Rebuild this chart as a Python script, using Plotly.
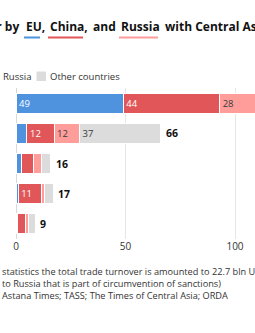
import plotly.graph_objects as go

# ---- data ----
countries = ["Kazakhstan", "Uzbekistan", "Kyrgyzstan", "Turkmenistan", "Tajikistan"]
eu = [49, 5, 2.7, 1.0, 0.5]
china = [44, 12.4, 5.2, 10.6, 3.8]
russia = [28, 11.6, 3.8, 1.4, 1.6]
others = [19, 37, 4.1, 4.1, 3.0]
series_names = ["EU", "China", "Russia", "Other countries"]
tick_vals = [0, 50, 100]

# ---- style ----
W, H = 255, 333
L, R, T, B = 16, 0, 88, 94
PX_PER_UNIT = 2.19
colors = ["#4f93df", "#e15759", "#ff9d9a", "#dcdcdc"]
label_colors = ["#ffffff", "#ffffff", "#3a3a3a", "#3a3a3a"]
FONT = "Open Sans"
plot_w = W - L - R
plot_h = H - T - B


def px(x):
    return (x - L) / plot_w


def py(y):
    return (H - B - y) / plot_h


fig = go.Figure()
for name, vals, col, lcol in zip(series_names, [eu, china, russia, others], colors, label_colors):
    fig.add_trace(go.Bar(
        y=countries, x=vals, name=name, orientation="h",
        marker=dict(color=col, line=dict(color="white", width=1)),
        text=[f"{v:.0f}" if v >= 8 else "" for v in vals],
        textposition="inside", insidetextanchor="start",
        insidetextfont=dict(family=FONT, size=9.5, color=lcol),
        textangle=0, constraintext="none",
        hoverinfo="skip",
    ))

totals = [a + b + c + d for a, b, c, d in zip(eu, china, russia, others)]
annotations = []
for cty, tot in zip(countries, totals):
    annotations.append(dict(
        x=tot, y=cty, xref="x", yref="y", text=f"<b>{tot:.0f}</b>",
        showarrow=False, xanchor="left", xshift=3,
        font=dict(family=FONT, size=10.5, color="#111111"),
    ))

# title pieces
title_pieces = [
    ("Trade turnover by", 20.5, "right"),
    ("EU,", 24, "left"),
    ("China,", 48, "left"),
    ("and", 90.5, "left"),
    ("Russia", 119, "left"),
    ("with Central Asia", 163, "left"),
]
for txt, x, anc in title_pieces:
    annotations.append(dict(
        x=px(x), y=py(26.5), xref="paper", yref="paper", text=f"<b>{txt}</b>",
        showarrow=False, xanchor=anc, yanchor="middle",
        font=dict(family=FONT, size=12, color="#111111"),
    ))

shapes = []
for (x0, x1), col in zip([(24, 40), (48, 83), (119, 158)], colors[:3]):
    shapes.append(dict(type="line", xref="paper", yref="paper",
                       x0=px(x0), x1=px(x1), y0=py(37.5), y1=py(37.5),
                       line=dict(color=col, width=2)))

# legend
annotations.append(dict(x=px(1), y=py(76.3), xref="paper", yref="paper", text="Russia",
                        showarrow=False, xanchor="left", yanchor="middle",
                        font=dict(family=FONT, size=9.5, color="#333333")))
shapes.append(dict(type="rect", xref="paper", yref="paper",
                   x0=px(-12), x1=px(-3), y0=py(81), y1=py(71.5),
                   fillcolor=colors[2], line=dict(width=0)))
shapes.append(dict(type="rect", xref="paper", yref="paper",
                   x0=px(36.5), x1=px(46), y0=py(81), y1=py(71.5),
                   fillcolor=colors[3], line=dict(width=0)))
annotations.append(dict(x=px(48), y=py(76.3), xref="paper", yref="paper", text="Other countries",
                        showarrow=False, xanchor="left", yanchor="middle",
                        font=dict(family=FONT, size=9.5, color="#333333")))

# footer
footer = [
    ("statistics the total trade turnover is amounted to 22.7 bln USD (this includes re-export"
     "<br>to Russia that is part of circumvention of sanctions)", 277.8),
    ("Astana Times; TASS; The Times of Central Asia; ORDA", 295.5),
]
for txt, y in footer:
    annotations.append(dict(x=px(0), y=py(y), xref="paper", yref="paper", text=txt,
                            showarrow=False, xanchor="left", yanchor="middle", align="left",
                            font=dict(family=FONT, size=9.2, color="#333333")))

fig.update_layout(
    width=W, height=H, margin=dict(l=L, r=R, t=T, b=B, pad=0),
    barmode="stack", bargap=0.34, showlegend=False,
    plot_bgcolor="white", paper_bgcolor="white",
    annotations=annotations, shapes=shapes,
    xaxis=dict(range=[0, plot_w / PX_PER_UNIT], tickvals=tick_vals, showgrid=True,
               gridcolor="#e6e6e6", gridwidth=1, zeroline=True, zerolinecolor="#d9d9d9",
               zerolinewidth=1, showline=False, ticks="",
               tickfont=dict(family=FONT, size=10, color="#333333"), fixedrange=True),
    yaxis=dict(autorange="reversed", showticklabels=False, showgrid=False, zeroline=False,
               ticks="", fixedrange=True),
)

fig.write_html("out.html")
